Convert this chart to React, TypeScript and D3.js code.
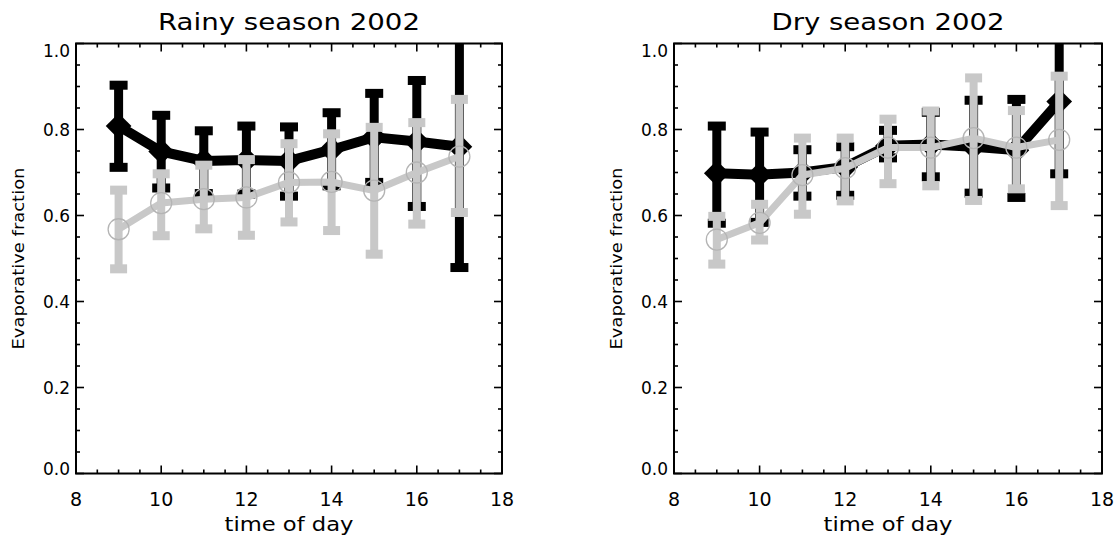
import React from "react";
import * as d3 from "d3";

// ---------- data ----------
const hours = [9, 10, 11, 12, 13, 14, 15, 16, 17];

const rainyBlackMean = [0.808, 0.749, 0.727, 0.729, 0.727, 0.753, 0.782, 0.772, 0.76];
const rainyBlackHigh = [0.903, 0.833, 0.797, 0.808, 0.806, 0.839, 0.884, 0.914, 1.05];
const rainyBlackLow = [0.712, 0.664, 0.651, 0.65, 0.645, 0.669, 0.677, 0.621, 0.479];
const rainyGrayMean = [0.568, 0.629, 0.638, 0.642, 0.677, 0.678, 0.658, 0.7, 0.737];
const rainyGrayHigh = [0.659, 0.697, 0.717, 0.73, 0.767, 0.79, 0.805, 0.816, 0.87];
const rainyGrayLow = [0.476, 0.553, 0.569, 0.554, 0.585, 0.565, 0.51, 0.58, 0.607];

const dryBlackMean = [0.698, 0.695, 0.7, 0.713, 0.762, 0.765, 0.76, 0.752, 0.865];
const dryBlackHigh = [0.808, 0.794, 0.753, 0.76, 0.798, 0.84, 0.868, 0.87, 1.05];
const dryBlackLow = [0.582, 0.584, 0.645, 0.647, 0.734, 0.69, 0.652, 0.642, 0.697];
const dryGrayMean = [0.544, 0.583, 0.694, 0.71, 0.758, 0.758, 0.78, 0.758, 0.776];
const dryGrayHigh = [0.598, 0.626, 0.78, 0.78, 0.824, 0.843, 0.92, 0.844, 0.924];
const dryGrayLow = [0.487, 0.543, 0.603, 0.634, 0.674, 0.669, 0.635, 0.662, 0.623];

const panelTitles = ["Rainy season 2002", "Dry season 2002"];
const xTickLabels = ["8", "10", "12", "14", "16", "18"];
const yTickLabels = ["0.0", "0.2", "0.4", "0.6", "0.8", "1.0"];
const xTitle = "time of day";
const yTitle = "Evaporative fraction";

// ---------- styles ----------
const FONT = "'DejaVu Sans', sans-serif";
const GRAY = "#c8c8c8";
const TOP = 43.5;
const BOTTOM = 473.5;

type Series = { mean: number[]; high: number[]; low: number[] };

function Panel(props: {
  id: string;
  x0: number;
  x1: number;
  title: string;
  titleLen: number;
  black: Series;
  gray: Series;
}) {
  const { id, x0, x1, title, titleLen, black, gray } = props;
  const x = d3.scaleLinear().domain([8, 18]).range([x0, x1]);
  const y = d3.scaleLinear().domain([0, 1]).range([BOTTOM, TOP]);
  const line = d3
    .line<number>()
    .x((_, i) => x(hours[i]))
    .y((d) => y(d));
  const diamond = d3.symbol(d3.symbolSquare, 330)() as string;

  const xMajor = xTickLabels.map(Number);
  const xMinor = d3.range(8.5, 18, 0.5).filter((v) => Math.abs(v % 2) > 1e-6);
  const yMajor = yTickLabels.map(Number);
  const yMinor = d3.range(0.05, 1, 0.05).filter((v) => Math.abs(v / 0.2 - Math.round(v / 0.2)) > 1e-6);

  const bars = (s: Series, color: string, bw: number, cw: number, ch: number) =>
    hours.map((h, i) => (
      <g key={"b" + i} fill={color}>
        <rect x={x(h) - bw / 2} y={y(s.high[i])} width={bw} height={y(s.low[i]) - y(s.high[i])} />
        <rect x={x(h) - cw / 2} y={y(s.high[i]) - ch / 2} width={cw} height={ch} />
        <rect x={x(h) - cw / 2} y={y(s.low[i]) - ch / 2} width={cw} height={ch} />
      </g>
    ));

  const cx = (x0 + x1) / 2;
  const cy = (TOP + BOTTOM) / 2;

  return (
    <g>
      <defs>
        <clipPath id={id}>
          <rect x={x0} y={TOP} width={x1 - x0} height={BOTTOM - TOP} />
        </clipPath>
      </defs>
      <g clipPath={`url(#${id})`}>
        {/* black series */}
        <path d={line(black.mean) as string} fill="none" stroke="#000" strokeWidth={10} strokeLinejoin="miter" />
        {bars(black, "#000", 9, 18, 9)}
        {hours.map((h, i) => (
          <path key={"d" + i} d={diamond} fill="#000" transform={`translate(${x(h)},${y(black.mean[i])}) rotate(45)`} />
        ))}
        {/* gray series */}
        <path d={line(gray.mean) as string} fill="none" stroke={GRAY} strokeWidth={7} strokeLinejoin="round" />
        {bars(gray, GRAY, 8, 17, 9)}
        {hours.map((h, i) => (
          <circle key={"c" + i} cx={x(h)} cy={y(gray.mean[i])} r={10.5} fill="none" stroke="#b4b4b4" strokeWidth={1.3} />
        ))}
      </g>
      {/* frame */}
      <rect x={x0} y={TOP} width={x1 - x0} height={BOTTOM - TOP} fill="none" stroke="#000" strokeWidth={2} />
      {/* ticks */}
      <g stroke="#000" strokeWidth={1.6}>
        {xMajor.map((v) => (
          <g key={"xm" + v}>
            <line x1={x(v)} x2={x(v)} y1={BOTTOM} y2={BOTTOM - 8} />
            <line x1={x(v)} x2={x(v)} y1={TOP} y2={TOP + 8} />
          </g>
        ))}
        {xMinor.map((v) => (
          <g key={"xn" + v}>
            <line x1={x(v)} x2={x(v)} y1={BOTTOM} y2={BOTTOM - 4} />
            <line x1={x(v)} x2={x(v)} y1={TOP} y2={TOP + 4} />
          </g>
        ))}
        {yMajor.map((v) => (
          <g key={"ym" + v}>
            <line x1={x0} x2={x0 + 8} y1={y(v)} y2={y(v)} />
            <line x1={x1} x2={x1 - 8} y1={y(v)} y2={y(v)} />
          </g>
        ))}
        {yMinor.map((v) => (
          <g key={"yn" + v}>
            <line x1={x0} x2={x0 + 4} y1={y(v)} y2={y(v)} />
            <line x1={x1} x2={x1 - 4} y1={y(v)} y2={y(v)} />
          </g>
        ))}
      </g>
      {/* labels */}
      <g fontFamily={FONT} fill="#000">
        {xTickLabels.map((t, i) => (
          <text key={"xl" + t} x={x(xMajor[i])} y={506} fontSize={19} textAnchor="middle">
            {t}
          </text>
        ))}
        {yTickLabels.map((t, i) => {
          const yy = Math.min(Math.max(y(yMajor[i]), TOP + 7), BOTTOM - 5);
          return (
            <text key={"yl" + t} x={x0 - 6} y={yy + 6} fontSize={17} textAnchor="end">
              {t}
            </text>
          );
        })}
        <text x={cx} y={30} fontSize={23} textAnchor="middle" textLength={titleLen} lengthAdjust="spacingAndGlyphs">
          {title}
        </text>
        <text x={cx} y={531} fontSize={19} textAnchor="middle" textLength={129} lengthAdjust="spacingAndGlyphs">
          {xTitle}
        </text>
        <text
          transform={`translate(${x0 - 52},${cy}) rotate(-90)`}
          fontSize={15}
          textAnchor="middle"
          textLength={182}
          lengthAdjust="spacingAndGlyphs"
        >
          {yTitle}
        </text>
      </g>
    </g>
  );
}

export default function App() {
  return (
    <svg width={1117} height={539} style={{ position: "absolute", left: 0, top: 0, background: "#fff" }}>
      <rect width={1117} height={539} fill="#fff" />
      <Panel
        id="clipL"
        x0={76}
        x1={502}
        title={panelTitles[0]}
        titleLen={262}
        black={{ mean: rainyBlackMean, high: rainyBlackHigh, low: rainyBlackLow }}
        gray={{ mean: rainyGrayMean, high: rainyGrayHigh, low: rainyGrayLow }}
      />
      <Panel
        id="clipR"
        x0={674}
        x1={1102}
        title={panelTitles[1]}
        titleLen={233}
        black={{ mean: dryBlackMean, high: dryBlackHigh, low: dryBlackLow }}
        gray={{ mean: dryGrayMean, high: dryGrayHigh, low: dryGrayLow }}
      />
    </svg>
  );
}
